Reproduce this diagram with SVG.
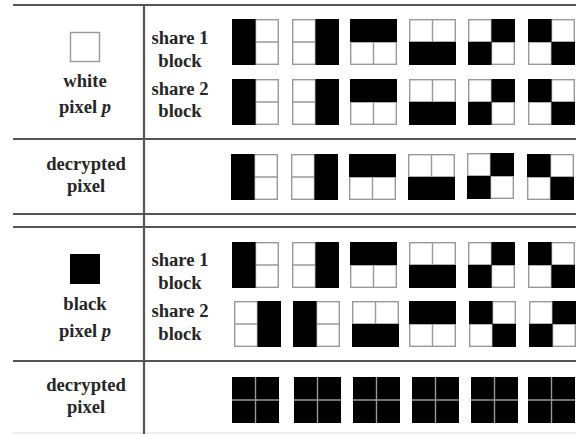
<svg xmlns="http://www.w3.org/2000/svg" xmlns:xlink="http://www.w3.org/1999/xlink" width="576" height="434" viewBox="0 0 576 434">
<style>
.t{font-family:"Liberation Serif","Times New Roman",serif;font-weight:bold;font-size:18.6px;fill:#262626;text-anchor:middle}
.rule{stroke:#555;stroke-width:2.2;fill:none}
.cell{fill:#fff;stroke:#999;stroke-width:1.4}
.div{stroke:#999;stroke-width:1.4}
.blk{fill:#000}
</style>
<defs>
<g id="base"><rect class="cell" x="0.7" y="0.7" width="45.6" height="44.6"/><line class="div" x1="23.5" y1="0.7" x2="23.5" y2="45.3"/><line class="div" x1="0.7" y1="23" x2="46.3" y2="23"/></g>
<g id="pL"><use xlink:href="#base"/><rect class="blk" x="0" y="0" width="23.5" height="46"/></g>
<g id="pR"><use xlink:href="#base"/><rect class="blk" x="23.5" y="0" width="23.5" height="46"/></g>
<g id="pT"><use xlink:href="#base"/><rect class="blk" x="0" y="0" width="47" height="23"/></g>
<g id="pB"><use xlink:href="#base"/><rect class="blk" x="0" y="23" width="47" height="23"/></g>
<g id="pA"><use xlink:href="#base"/><rect class="blk" x="23.5" y="0" width="23.5" height="23"/><rect class="blk" x="0" y="23" width="23.5" height="23"/></g>
<g id="pD"><use xlink:href="#base"/><rect class="blk" x="0" y="0" width="23.5" height="23"/><rect class="blk" x="23.5" y="23" width="23.5" height="23"/></g>
<g id="pK"><rect class="blk" x="0" y="0" width="47" height="46"/><line class="div" x1="23.5" y1="0" x2="23.5" y2="46"/><line class="div" x1="0" y1="23" x2="47" y2="23"/></g>
</defs>
<rect width="576" height="434" fill="#fff"/>
<g id="table-lines">
<line class="rule" x1="13" y1="5" x2="576" y2="5"/>
<line class="rule" x1="13" y1="139" x2="576" y2="139"/>
<line class="rule" x1="13" y1="214" x2="576" y2="214"/>
<line class="rule" x1="13" y1="227" x2="576" y2="227"/>
<line class="rule" x1="13" y1="361" x2="576" y2="361"/>
<line x1="13" y1="433" x2="576" y2="433" stroke="#ddd" stroke-width="1"/>
<line class="rule" x1="144" y1="4" x2="144" y2="434"/>
</g>
<g id="white-pixel">
<rect x="70.5" y="32.5" width="29" height="29" fill="#fff" stroke="#999" stroke-width="1.4"/>
<text class="t" x="85" y="87">white</text>
<text class="t" x="85" y="113">pixel <tspan font-style="italic">p</tspan></text>
</g>
<g id="black-pixel">
<rect x="70" y="254" width="30" height="30" fill="#000"/>
<text class="t" x="85" y="310">black</text>
<text class="t" x="85" y="337">pixel <tspan font-style="italic">p</tspan></text>
</g>
<g id="labels">
<text class="t" x="180" y="44">share 1</text>
<text class="t" x="180" y="67">block</text>
<text class="t" x="180" y="95">share 2</text>
<text class="t" x="180" y="117">block</text>
<text class="t" x="86" y="170">decrypted</text>
<text class="t" x="86" y="192">pixel</text>
<text class="t" x="180" y="266">share 1</text>
<text class="t" x="180" y="289">block</text>
<text class="t" x="180" y="317">share 2</text>
<text class="t" x="180" y="340">block</text>
<text class="t" x="86" y="391">decrypted</text>
<text class="t" x="86" y="413">pixel</text>
</g>
<g id="white-share1">
<use xlink:href="#pL" x="232" y="19"/><use xlink:href="#pR" x="292" y="19"/><use xlink:href="#pT" x="350" y="19"/><use xlink:href="#pB" x="409" y="19"/><use xlink:href="#pA" x="468" y="19"/><use xlink:href="#pD" x="528" y="19"/>
</g>
<g id="white-share2">
<use xlink:href="#pL" x="232" y="79"/><use xlink:href="#pR" x="292" y="79"/><use xlink:href="#pT" x="350" y="79"/><use xlink:href="#pB" x="409" y="79"/><use xlink:href="#pA" x="468" y="79"/><use xlink:href="#pD" x="528" y="79"/>
</g>
<g id="white-decrypted">
<use xlink:href="#pL" x="231" y="154"/><use xlink:href="#pR" x="291" y="154"/><use xlink:href="#pT" x="349" y="154"/><use xlink:href="#pB" x="408" y="154"/><use xlink:href="#pA" x="467" y="153"/><use xlink:href="#pD" x="527" y="154"/>
</g>
<g id="black-share1">
<use xlink:href="#pL" x="232" y="242"/><use xlink:href="#pR" x="292" y="242"/><use xlink:href="#pT" x="350" y="242"/><use xlink:href="#pB" x="409" y="242"/><use xlink:href="#pA" x="468" y="242"/><use xlink:href="#pD" x="528" y="242"/>
</g>
<g id="black-share2">
<use xlink:href="#pR" x="234" y="301"/><use xlink:href="#pL" x="293" y="301"/><use xlink:href="#pB" x="352" y="301"/><use xlink:href="#pT" x="409" y="301"/><use xlink:href="#pD" x="469" y="301"/><use xlink:href="#pA" x="529" y="301"/>
</g>
<g id="black-decrypted">
<use xlink:href="#pK" x="232" y="377"/><use xlink:href="#pK" x="294" y="377"/><use xlink:href="#pK" x="353" y="377"/><use xlink:href="#pK" x="412" y="377"/><use xlink:href="#pK" x="471" y="377"/><use xlink:href="#pK" x="528" y="377"/>
</g>
</svg>
